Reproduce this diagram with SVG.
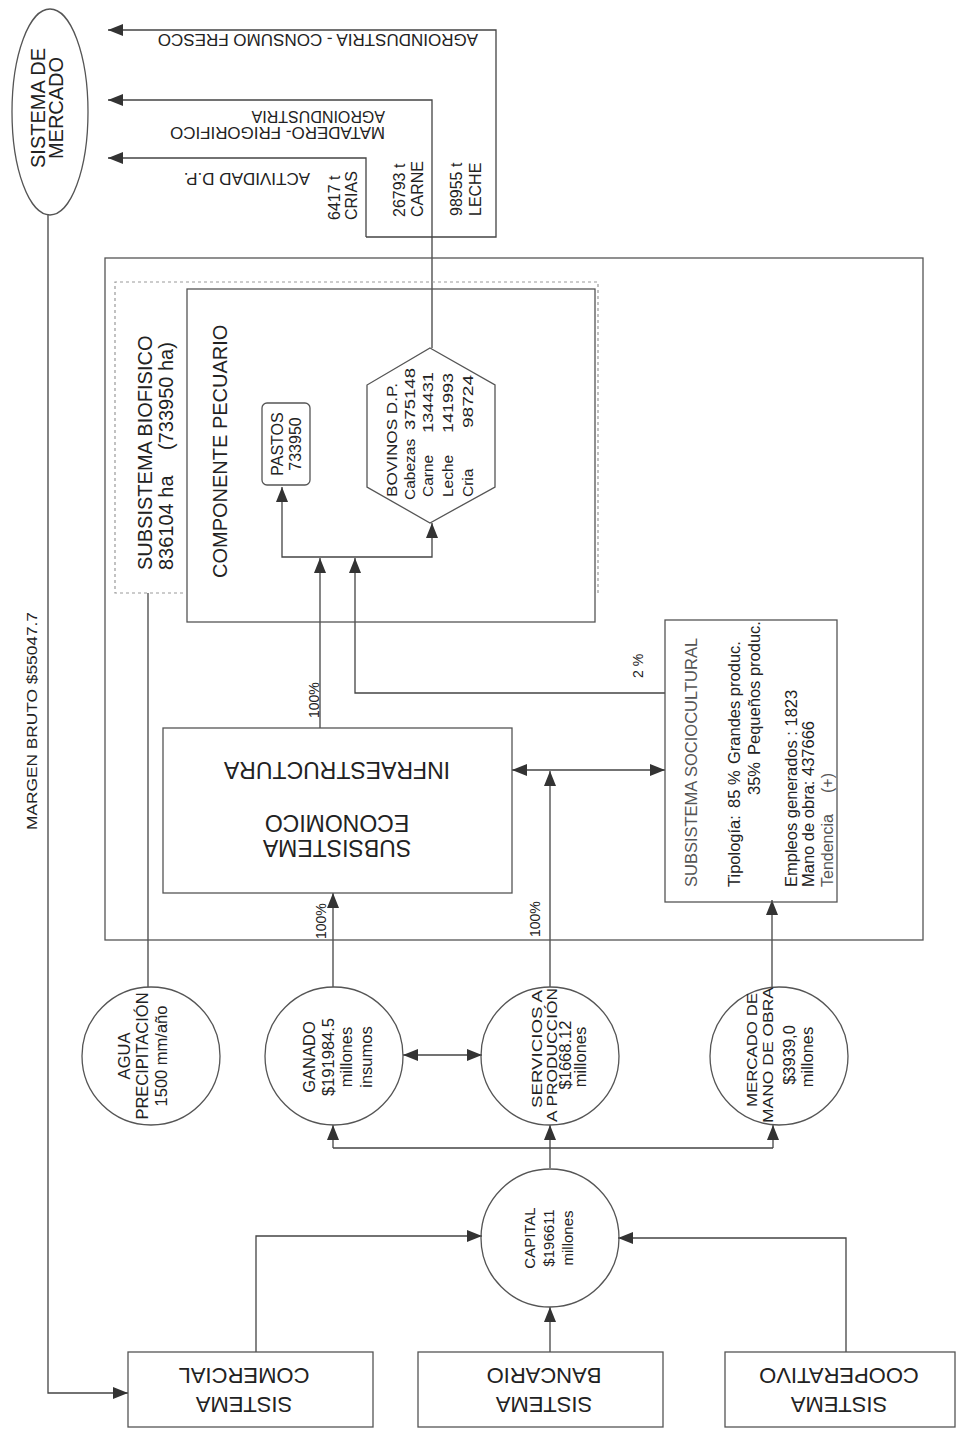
<svg xmlns="http://www.w3.org/2000/svg" width="966" height="1429" viewBox="0 0 966 1429">
<style>
text{font-family:"Liberation Sans",Arial,sans-serif;fill:#222}
.box{fill:none;stroke:#555;stroke-width:1.3}
.dash{fill:none;stroke:#999;stroke-width:1.2;stroke-dasharray:3 3}
.ln{fill:none;stroke:#444;stroke-width:1.3}
.a{marker-end:url(#arr)}
.b{marker-start:url(#arr);marker-end:url(#arr)}
.t17{font-size:17px}
.t16{font-size:16px}
.t14{font-size:14px}
.c{font-size:16.5px;text-anchor:middle}
.c15{font-size:15px;text-anchor:middle}
.big{font-size:22px;text-anchor:middle}
.gray{fill:#555}
</style>
<defs>
<marker id="arr" markerUnits="userSpaceOnUse" markerWidth="15" markerHeight="12" refX="15" refY="6" orient="auto-start-reverse">
<path d="M0,0 L15,6 L0,12 z" fill="#333"/>
</marker>
</defs>

<g id="connectors">
<path class="ln a" d="M366,237 H496 V30 H108"/>
<path class="ln a" d="M366,237 V158 H108"/>
<path class="ln a" d="M432,348 V100 H108"/>
<path class="ln a" d="M48,215 V1393 H128"/>
<path class="ln" d="M148,593 V987"/>
<path class="ln b" d="M432,523 V557 H282 V487"/>
<path class="ln a" d="M320,728 V558"/>
<path class="ln a" d="M665,693 H355 V558"/>
<path class="ln b" d="M512,770 H665"/>
<path class="ln a" d="M550,987 V771"/>
<path class="ln a" d="M333,987 V893"/>
<path class="ln a" d="M772,987 V900"/>
<path class="ln b" d="M403,1055 H482"/>
<path class="ln" d="M550,1168 V1148 M333,1148 H773"/>
<path class="ln a" d="M333,1148 V1125"/>
<path class="ln a" d="M550,1148 V1125"/>
<path class="ln a" d="M773,1148 V1125"/>
<path class="ln a" d="M256,1352 V1236 H482"/>
<path class="ln a" d="M550,1352 V1307"/>
<path class="ln a" d="M846,1352 V1238 H618"/>
<text class="t14" transform="translate(319,718) rotate(-90)">100%</text>
<text class="t14" transform="translate(326,939) rotate(-90)">100%</text>
<text class="t14" transform="translate(540,937) rotate(-90)">100%</text>
<text class="t14" transform="translate(643,678) rotate(-90)">2 %</text>
<text class="t14" transform="translate(37,830) rotate(-90)" textLength="218" lengthAdjust="spacingAndGlyphs">MARGEN BRUTO $55047.7</text>
<text class="t17" transform="translate(478,34) rotate(180)">AGROINDUSTRIA - CONSUMO FRESCO</text>
<text style="font-size:16px" transform="translate(385,127) rotate(180)"><tspan x="0" y="0" textLength="215" lengthAdjust="spacingAndGlyphs">MATADERO- FRIGORIFICO</tspan><tspan x="0" y="16">AGROINDUSTRIA</tspan></text>
<text class="t17" transform="translate(310,173) rotate(180)">ACTIVIDAD D.P.</text>
<text class="t16" transform="translate(340,220) rotate(-90)"><tspan x="0" y="0">6417 t</tspan><tspan x="0" y="17">CRIAS</tspan></text>
<text class="t16" transform="translate(405,217) rotate(-90)"><tspan x="0" y="0">26793 t</tspan><tspan x="0" y="18">CARNE</tspan></text>
<text class="t16" transform="translate(462,216) rotate(-90)"><tspan x="0" y="0">98955 t</tspan><tspan x="0" y="19">LECHE</tspan></text>
</g>

<g id="mercado">
<ellipse class="box" cx="50" cy="112" rx="38" ry="103"/>
<text style="font-size:20px;text-anchor:middle" transform="translate(45,108) rotate(-90)"><tspan x="0" y="0">SISTEMA DE</tspan><tspan x="0" y="18">MERCADO</tspan></text>
</g>

<g id="sistema-outer">
<rect class="box" x="105" y="258" width="818" height="682"/>
</g>

<g id="biofisico">
<path class="dash" d="M183,593 H115 V282 H598 V593"/>
<text style="font-size:20px" transform="translate(152,570) rotate(-90)"><tspan x="0" y="0">SUBSISTEMA BIOFISICO</tspan><tspan x="0" y="21">836104 ha</tspan><tspan x="120" y="21">(733950 ha)</tspan></text>
</g>

<g id="componente">
<rect class="box" x="187" y="289" width="408" height="333"/>
<text style="font-size:20px" transform="translate(227,578) rotate(-90)">COMPONENTE PECUARIO</text>
</g>

<g id="pastos">
<rect class="box" x="262" y="403" width="48" height="82" rx="5"/>
<text class="t16" style="text-anchor:middle" transform="translate(283,444) rotate(-90)"><tspan x="0" y="0">PASTOS</tspan><tspan x="0" y="18">733950</tspan></text>
</g>

<g id="bovinos">
<polygon class="box" points="430,348 495,385 495,487 430,523 367,487 367,385"/>
<g style="font-size:15.5px">
<text transform="translate(397,497) rotate(-90)" textLength="114" lengthAdjust="spacingAndGlyphs">BOVINOS D.P.</text>
<text transform="translate(415,500) rotate(-90)"><tspan x="0">Cabezas</tspan><tspan x="70" textLength="62" lengthAdjust="spacingAndGlyphs">375148</tspan></text>
<text transform="translate(433,497) rotate(-90)"><tspan x="0">Carne</tspan><tspan x="64" textLength="61" lengthAdjust="spacingAndGlyphs">134431</tspan></text>
<text transform="translate(453,497) rotate(-90)"><tspan x="0">Leche</tspan><tspan x="64" textLength="60" lengthAdjust="spacingAndGlyphs">141993</tspan></text>
<text transform="translate(473,497) rotate(-90)"><tspan x="0">Cria</tspan><tspan x="69" textLength="53" lengthAdjust="spacingAndGlyphs">98724</tspan></text>
</g>
</g>

<g id="economico">
<rect class="box" x="163" y="728" width="349" height="165"/>
<text style="font-size:23px;text-anchor:middle" transform="translate(337,840) rotate(180)"><tspan x="0" y="0">SUBSISTEMA</tspan><tspan x="0" y="25">ECONOMICO</tspan><tspan x="0" y="78">INFRAESTRUCTURA</tspan></text>
</g>

<g id="sociocultural">
<rect class="box" x="665" y="620" width="172" height="282"/>
<text class="gray" style="font-size:16.5px" transform="translate(697,887) rotate(-90)">SUBSISTEMA SOCIOCULTURAL</text>
<text style="font-size:16.5px" transform="translate(740,887) rotate(-90)"><tspan x="0">Tipología:</tspan><tspan x="79">85 %</tspan><tspan x="123">Grandes produc.</tspan></text>
<text style="font-size:16.5px" transform="translate(760,887) rotate(-90)"><tspan x="92">35%</tspan><tspan x="132">Pequeños produc.</tspan></text>
<text style="font-size:16.5px" transform="translate(797,887) rotate(-90)">Empleos generados : 1823</text>
<text style="font-size:16.5px" transform="translate(814,887) rotate(-90)">Mano de obra: 437666</text>
<text class="gray" style="font-size:16px" transform="translate(833,887) rotate(-90)"><tspan x="0">Tendencia</tspan><tspan x="94">(+)</tspan></text>
</g>

<g id="agua">
<circle class="box" cx="151" cy="1056" r="69"/>
<text class="c" transform="translate(130,1056) rotate(-90)">AGUA</text>
<text class="c" transform="translate(148,1056) rotate(-90)">PRECIPITACIÓN</text>
<text class="c" transform="translate(167,1056) rotate(-90)">1500 mm/año</text>
</g>

<g id="ganado">
<circle class="box" cx="334" cy="1056" r="69"/>
<text class="c" transform="translate(315,1057) rotate(-90)">GANADO</text>
<text class="c" transform="translate(334,1057) rotate(-90)">$191984.5</text>
<text class="c" transform="translate(352,1057) rotate(-90)">millones</text>
<text class="c" transform="translate(372,1057) rotate(-90)">insumos</text>
</g>

<g id="servicios">
<circle class="box" cx="550" cy="1056" r="69"/>
<text class="c15" transform="translate(542,1049) rotate(-90)" textLength="118" lengthAdjust="spacingAndGlyphs">SERVICIOS A</text>
<text class="c15" transform="translate(557,1055) rotate(-90)" textLength="134" lengthAdjust="spacingAndGlyphs">A PRODUCCIÓN</text>
<text class="c" transform="translate(571,1055) rotate(-90)">$1668.12</text>
<text class="c" transform="translate(586,1057) rotate(-90)">millones</text>
</g>

<g id="mercado-obra">
<circle class="box" cx="779" cy="1056" r="69"/>
<text class="c15" transform="translate(757,1050) rotate(-90)" textLength="114" lengthAdjust="spacingAndGlyphs">MERCADO DE</text>
<text class="c15" transform="translate(773,1055) rotate(-90)" textLength="136" lengthAdjust="spacingAndGlyphs">MANO DE OBRA</text>
<text class="c" transform="translate(795,1055) rotate(-90)">$3939,0</text>
<text class="c" transform="translate(813,1057) rotate(-90)">millones</text>
</g>

<g id="capital">
<circle class="box" cx="550" cy="1238" r="69"/>
<text class="c15" transform="translate(535,1238) rotate(-90)">CAPITAL</text>
<text class="c15" transform="translate(554,1238) rotate(-90)">$196611</text>
<text class="c15" transform="translate(573,1238) rotate(-90)">millones</text>
</g>

<g id="comercial">
<rect class="box" x="128" y="1352" width="245" height="75"/>
<text class="big" transform="translate(244,1397) rotate(180)"><tspan x="0" y="0">SISTEMA</tspan><tspan x="0" y="29">COMERCIAL</tspan></text>
</g>

<g id="bancario">
<rect class="box" x="418" y="1352" width="245" height="75"/>
<text class="big" transform="translate(544,1397) rotate(180)"><tspan x="0" y="0">SISTEMA</tspan><tspan x="0" y="29">BANCARIO</tspan></text>
</g>

<g id="cooperativo">
<rect class="box" x="725" y="1352" width="230" height="75"/>
<text class="big" transform="translate(839,1397) rotate(180)"><tspan x="0" y="0">SISTEMA</tspan><tspan x="0" y="29">COOPERATIVO</tspan></text>
</g>
</svg>
